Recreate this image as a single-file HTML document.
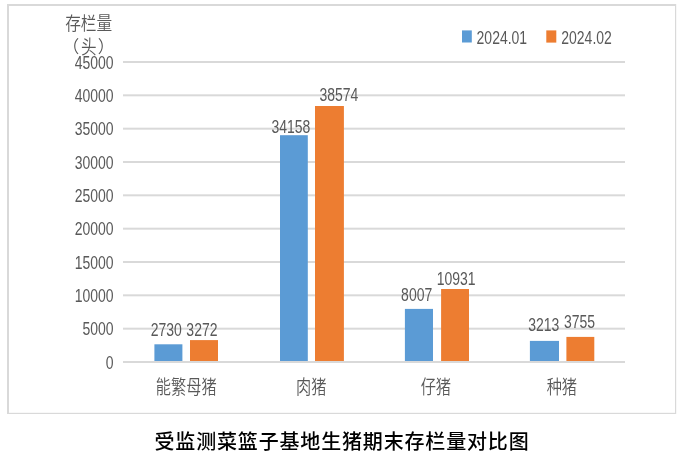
<!DOCTYPE html>
<html><head><meta charset="utf-8"><title>受监测菜篮子基地生猪期末存栏量对比图</title>
<style>html,body{margin:0;padding:0;background:#fff;}svg{display:block;}</style></head>
<body><svg width="681" height="458" viewBox="0 0 681 458">
<rect x="0" y="0" width="681" height="458" fill="#fff"/>
<rect x="7" y="4" width="669" height="2" fill="#d9d9d9"/>
<rect x="7" y="4" width="2" height="410" fill="#d9d9d9"/>
<rect x="675" y="4" width="1.2" height="410" fill="#d9d9d9"/>
<rect x="7" y="412.8" width="669" height="1.2" fill="#d9d9d9"/>
<rect x="123" y="327.67" width="502" height="2" fill="#d9d9d9"/>
<rect x="123" y="294.33" width="502" height="2" fill="#d9d9d9"/>
<rect x="123" y="261.00" width="502" height="2" fill="#d9d9d9"/>
<rect x="123" y="227.67" width="502" height="2" fill="#d9d9d9"/>
<rect x="123" y="194.33" width="502" height="2" fill="#d9d9d9"/>
<rect x="123" y="161.00" width="502" height="2" fill="#d9d9d9"/>
<rect x="123" y="127.67" width="502" height="2" fill="#d9d9d9"/>
<rect x="123" y="94.33" width="502" height="2" fill="#d9d9d9"/>
<rect x="123" y="61.00" width="502" height="2" fill="#d9d9d9"/>
<rect x="154.40" y="344.30" width="28.00" height="17.70" fill="#5b9bd5"/>
<rect x="190.00" y="340.10" width="28.00" height="21.90" fill="#ed7d31"/>
<rect x="280.00" y="135.20" width="27.80" height="226.80" fill="#5b9bd5"/>
<rect x="315.00" y="106.00" width="28.90" height="256.00" fill="#ed7d31"/>
<rect x="404.90" y="308.90" width="28.10" height="53.10" fill="#5b9bd5"/>
<rect x="441.10" y="289.00" width="27.90" height="73.00" fill="#ed7d31"/>
<rect x="529.90" y="340.90" width="29.10" height="21.10" fill="#5b9bd5"/>
<rect x="566.40" y="336.90" width="27.90" height="25.10" fill="#ed7d31"/>
<rect x="123" y="361.00" width="502" height="2" fill="#d9d9d9"/>
<rect x="462" y="30.4" width="9.8" height="12.1" fill="#5b9bd5"/>
<rect x="546.3" y="30.4" width="10" height="12.2" fill="#ed7d31"/>
<text transform="translate(113.60 368.70) scale(0.7950 1)" font-size="17.6" font-weight="400" text-anchor="end" fill="#595959" font-family="'Liberation Sans', sans-serif">0</text>
<text transform="translate(113.60 335.37) scale(0.7950 1)" font-size="17.6" font-weight="400" text-anchor="end" fill="#595959" font-family="'Liberation Sans', sans-serif">5000</text>
<text transform="translate(113.60 302.03) scale(0.7950 1)" font-size="17.6" font-weight="400" text-anchor="end" fill="#595959" font-family="'Liberation Sans', sans-serif">10000</text>
<text transform="translate(113.60 268.70) scale(0.7950 1)" font-size="17.6" font-weight="400" text-anchor="end" fill="#595959" font-family="'Liberation Sans', sans-serif">15000</text>
<text transform="translate(113.60 235.37) scale(0.7950 1)" font-size="17.6" font-weight="400" text-anchor="end" fill="#595959" font-family="'Liberation Sans', sans-serif">20000</text>
<text transform="translate(113.60 202.03) scale(0.7950 1)" font-size="17.6" font-weight="400" text-anchor="end" fill="#595959" font-family="'Liberation Sans', sans-serif">25000</text>
<text transform="translate(113.60 168.70) scale(0.7950 1)" font-size="17.6" font-weight="400" text-anchor="end" fill="#595959" font-family="'Liberation Sans', sans-serif">30000</text>
<text transform="translate(113.60 135.37) scale(0.7950 1)" font-size="17.6" font-weight="400" text-anchor="end" fill="#595959" font-family="'Liberation Sans', sans-serif">35000</text>
<text transform="translate(113.60 102.03) scale(0.7950 1)" font-size="17.6" font-weight="400" text-anchor="end" fill="#595959" font-family="'Liberation Sans', sans-serif">40000</text>
<text transform="translate(113.60 68.70) scale(0.7950 1)" font-size="17.6" font-weight="400" text-anchor="end" fill="#595959" font-family="'Liberation Sans', sans-serif">45000</text>
<text transform="translate(166.35 336.20) scale(0.7950 1)" font-size="17.6" font-weight="400" text-anchor="middle" fill="#595959" font-family="'Liberation Sans', sans-serif">2730</text>
<text transform="translate(201.90 336.20) scale(0.7950 1)" font-size="17.6" font-weight="400" text-anchor="middle" fill="#595959" font-family="'Liberation Sans', sans-serif">3272</text>
<text transform="translate(290.85 132.60) scale(0.7950 1)" font-size="17.6" font-weight="400" text-anchor="middle" fill="#595959" font-family="'Liberation Sans', sans-serif">34158</text>
<text transform="translate(338.90 100.50) scale(0.7950 1)" font-size="17.6" font-weight="400" text-anchor="middle" fill="#595959" font-family="'Liberation Sans', sans-serif">38574</text>
<text transform="translate(416.65 300.50) scale(0.7950 1)" font-size="17.6" font-weight="400" text-anchor="middle" fill="#595959" font-family="'Liberation Sans', sans-serif">8007</text>
<text transform="translate(456.20 285.40) scale(0.7950 1)" font-size="17.6" font-weight="400" text-anchor="middle" fill="#595959" font-family="'Liberation Sans', sans-serif">10931</text>
<text transform="translate(543.70 330.60) scale(0.7950 1)" font-size="17.6" font-weight="400" text-anchor="middle" fill="#595959" font-family="'Liberation Sans', sans-serif">3213</text>
<text transform="translate(579.60 327.50) scale(0.7950 1)" font-size="17.6" font-weight="400" text-anchor="middle" fill="#595959" font-family="'Liberation Sans', sans-serif">3755</text>
<text transform="translate(476.60 43.90) scale(0.7950 1)" font-size="17.6" font-weight="400" text-anchor="start" fill="#595959" font-family="'Liberation Sans', sans-serif">2024.01</text>
<text transform="translate(561.30 43.90) scale(0.7950 1)" font-size="17.6" font-weight="400" text-anchor="start" fill="#595959" font-family="'Liberation Sans', sans-serif">2024.02</text>
<text transform="translate(186.25 393.70) scale(0.7850 1)" font-size="19.4" font-weight="350" text-anchor="middle" fill="#595959" font-family="'Liberation Sans', 'Noto Sans CJK SC', sans-serif">能繁母猪</text>
<text transform="translate(311.25 393.70) scale(0.7850 1)" font-size="19.4" font-weight="350" text-anchor="middle" fill="#595959" font-family="'Liberation Sans', 'Noto Sans CJK SC', sans-serif">肉猪</text>
<text transform="translate(435.85 393.70) scale(0.7850 1)" font-size="19.4" font-weight="350" text-anchor="middle" fill="#595959" font-family="'Liberation Sans', 'Noto Sans CJK SC', sans-serif">仔猪</text>
<text transform="translate(561.85 393.70) scale(0.7850 1)" font-size="19.4" font-weight="350" text-anchor="middle" fill="#595959" font-family="'Liberation Sans', 'Noto Sans CJK SC', sans-serif">种猪</text>
<text transform="translate(65.20 30.05) scale(0.8610 1)" font-size="18.2" font-weight="350" text-anchor="start" fill="#595959" font-family="'Liberation Sans', 'Noto Sans CJK SC', sans-serif">存栏量</text>
<text transform="translate(62.20 53.05) scale(1.0000 1)" font-size="17" font-weight="350" text-anchor="start" fill="#595959" font-family="'Liberation Sans', 'Noto Sans CJK SC', sans-serif">（</text>
<text transform="translate(80.97 53.50) scale(0.8200 1)" font-size="19" font-weight="350" text-anchor="start" fill="#595959" font-family="'Liberation Sans', 'Noto Sans CJK SC', sans-serif">头</text>
<text transform="translate(97.85 53.05) scale(1.0000 1)" font-size="17" font-weight="350" text-anchor="start" fill="#595959" font-family="'Liberation Sans', 'Noto Sans CJK SC', sans-serif">）</text>
<text transform="translate(154.50 449.40) scale(1.0000 1)" font-size="20" font-weight="500" text-anchor="start" fill="#000" font-family="'Liberation Sans', 'Noto Sans CJK SC', sans-serif" letter-spacing="0.835">受监测菜篮子基地生猪期末存栏量对比图</text>
</svg></body></html>
